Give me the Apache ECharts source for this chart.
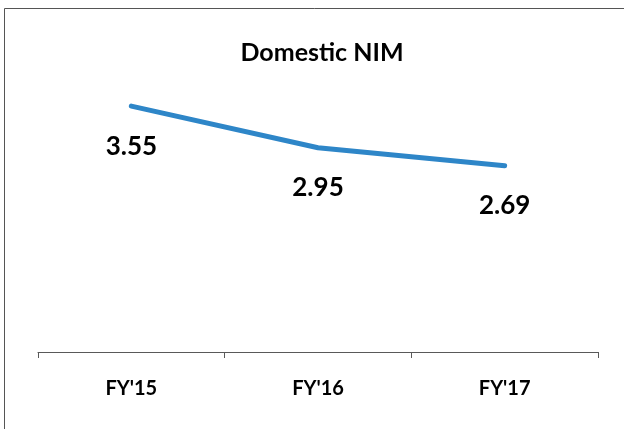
<!DOCTYPE html>
<html>
<head>
<meta charset="utf-8">
<script src="https://cdn.jsdelivr.net/npm/echarts@6/dist/echarts.min.js"></script>
<style>
  html, body { margin: 0; padding: 0; background: #fff; }
  #chart { width: 624px; height: 429px; }
</style>
</head>
<body>
<div id="chart"></div>
<script>
const categories = ["FY'15", "FY'16", "FY'17"]
const nimValues = [3.55, 2.95, 2.69]
const titleText = 'Domestic NIM'

const myChart = echarts.init(document.getElementById('chart'))

const font = 'Lato, "Open Sans", sans-serif'
const lineColor = '#2E86C8'

const option = {
  backgroundColor: '#fff',
  animation: false,
  title: {
    text: titleText,
    left: 317,
    top: 35,
    textAlign: 'center',
    textStyle: {
      fontFamily: font,
      fontWeight: 'bold',
      fontSize: 25,
      color: '#000'
    }
  },
  graphic: [
    {
      type: 'rect',
      shape: { x: 4.5, y: 8.5, width: 700, height: 500 },
      style: { fill: 'none', stroke: '#555', lineWidth: 1 },
      silent: true
    }
  ],
  grid: {
    left: 38,
    right: 26,
    top: 75,
    bottom: 77
  },
  xAxis: {
    type: 'category',
    data: categories,
    boundaryGap: true,
    axisLine: { lineStyle: { color: '#595959', width: 1 } },
    axisTick: { show: true, length: 6, lineStyle: { color: '#595959' } },
    axisLabel: {
      margin: 27,
      fontFamily: font,
      fontWeight: 'bold',
      fontSize: 20,
      color: '#000'
    }
  },
  yAxis: {
    type: 'value',
    min: 0,
    max: 4,
    show: false,
    splitLine: { show: false }
  },
  series: [
    {
      type: 'line',
      data: nimValues,
      symbol: 'circle',
      symbolSize: 2,
      showSymbol: true,
      itemStyle: { color: lineColor },
      lineStyle: { color: lineColor, width: 5, cap: 'round' },
      label: {
        show: true,
        position: 'bottom',
        distance: 26,
        fontFamily: font,
        fontWeight: 'bold',
        fontSize: 26,
        color: '#000'
      }
    }
  ]
}

myChart.setOption(option)
</script>
</body>
</html>
